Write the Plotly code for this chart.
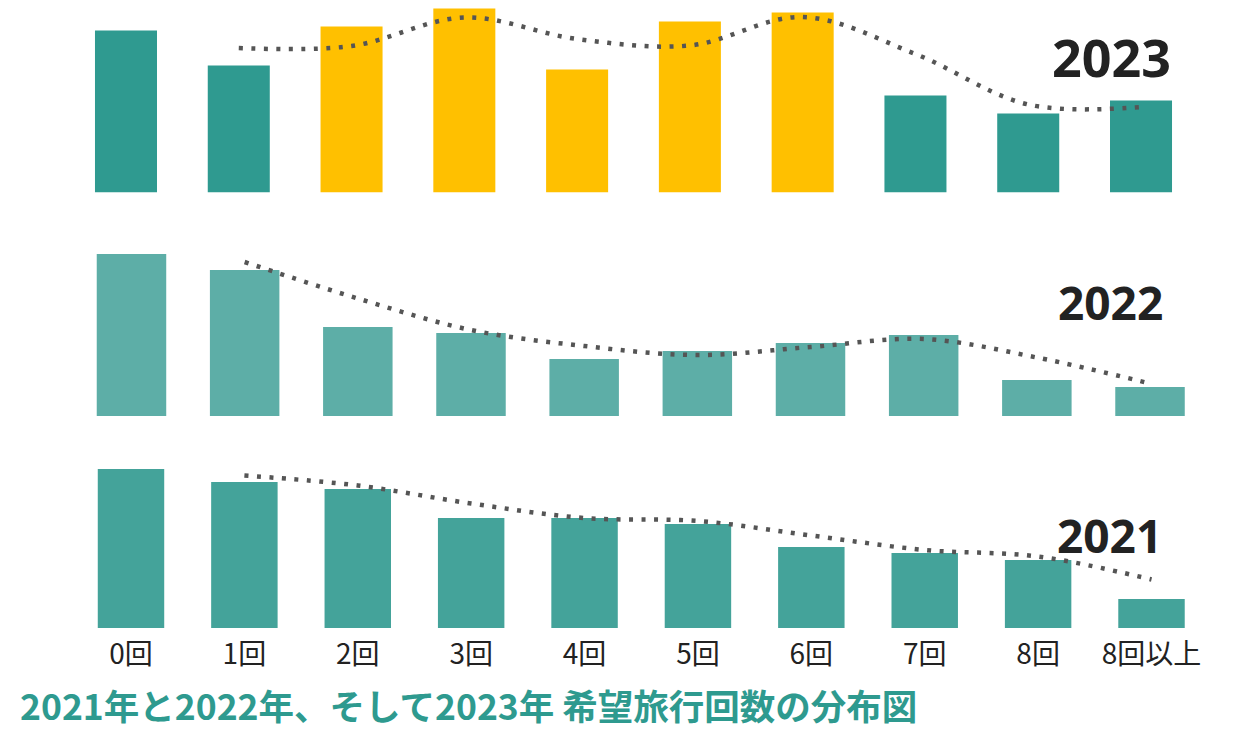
import plotly.graph_objects as go

# ---- data ----
categories = ["0回", "1回", "2回", "3回", "4回", "5回", "6回", "7回", "8回", "8回以上"]
values_2023 = [162, 127, 166, 184, 123, 171, 180, 97, 79, 92]
values_2022 = [162, 146, 89, 83, 57, 65, 73, 81, 36, 29]
values_2021 = [159, 146, 139, 110, 110, 104, 81, 75, 68, 29]
highlight_2023 = ["2回", "3回", "4回", "5回", "6回"]
year_labels = ["2023", "2022", "2021"]
title_text = "2021年と2022年、そして2023年 希望旅行回数の分布図"

W, H = 1235, 729
OFF = 8  # page body margin


def fx(p):
    return min(max((p - OFF) / W, 0), 1)


def fy(p):
    return min(max(1 - (p - OFF) / H, 0), 1)


def moving_avg(v, n=2):
    return [sum(v[i - n + 1:i + 1]) / n for i in range(n - 1, len(v))]


TEAL23 = "#2F9A90"
YELLOW = "#FFC000"
TEAL22 = "#5DAEA7"
TEAL21 = "#44A39A"
DOT = "#555555"

panels = [
    dict(vals=values_2023,
         colors=[YELLOW if c in highlight_2023 else TEAL23 for c in categories],
         xd=(69.6, 1197.4), yt=8, yb=192.5, ymax=184.5, bw=0.55,
         label=year_labels[0], lx=1111, ly=56, ls=52),
    dict(vals=values_2022, colors=[TEAL22] * len(categories),
         xd=(74.9, 1206.6), yt=236, yb=416, ymax=180, bw=0.614,
         label=year_labels[1], lx=1110, ly=302, ls=46),
    dict(vals=values_2021, colors=[TEAL21] * len(categories),
         xd=(74.3, 1208.2), yt=448, yb=628, ymax=180, bw=0.586,
         label=year_labels[2], lx=1109, ly=535, ls=46),
]

fig = go.Figure()
annotations = []
for k, p in enumerate(panels):
    ax = "" if k == 0 else str(k + 1)
    xa, ya = "x" + ax, "y" + ax
    fig.add_trace(go.Bar(x=categories, y=p["vals"], marker=dict(color=p["colors"], line=dict(width=0)),
                         width=p["bw"], xaxis=xa, yaxis=ya, showlegend=False, cliponaxis=False))
    ma = moving_avg(p["vals"], 2)
    fig.add_trace(go.Scatter(x=categories[1:], y=ma, mode="lines",
                             line=dict(color=DOT, width=4.5, dash="4px,8.5px", shape="spline", smoothing=1.0),
                             xaxis=xa, yaxis=ya, showlegend=False, cliponaxis=False))
    last = k == len(panels) - 1
    fig.update_layout(**{
        "xaxis" + ax: dict(domain=[fx(p["xd"][0]), fx(p["xd"][1])], range=[-0.5, 9.5],
                           type="category", anchor=ya, showgrid=False, zeroline=False, showline=False,
                           showticklabels=last, ticks="", ticklabelstandoff=7,
                           tickfont=dict(family="Noto Sans CJK JP", size=28, color="#222222")),
        "yaxis" + ax: dict(domain=[fy(p["yb"]), fy(p["yt"])], range=[0, p["ymax"]], anchor=xa,
                           showgrid=False, zeroline=False, showline=False, showticklabels=False),
    })
    annotations.append(dict(text="<b>%s</b>" % p["label"], x=fx(p["lx"]), y=fy(p["ly"]),
                            xref="paper", yref="paper", xanchor="center", yanchor="middle",
                            showarrow=False,
                            font=dict(family="Open Sans", size=p["ls"], color="#222222")))

annotations.append(dict(text="<b>%s</b>" % title_text, x=fx(18), y=fy(704), xref="paper", yref="paper",
                        xanchor="left", yanchor="middle", showarrow=False,
                        font=dict(family="Noto Sans CJK JP", size=35.5, color="#2E9A8F")))

fig.update_layout(width=W, height=H, margin=dict(l=0, r=0, t=0, b=0),
                  paper_bgcolor="white", plot_bgcolor="rgba(0,0,0,0)",
                  annotations=annotations, bargap=0.4)

fig.write_html("out.html")
